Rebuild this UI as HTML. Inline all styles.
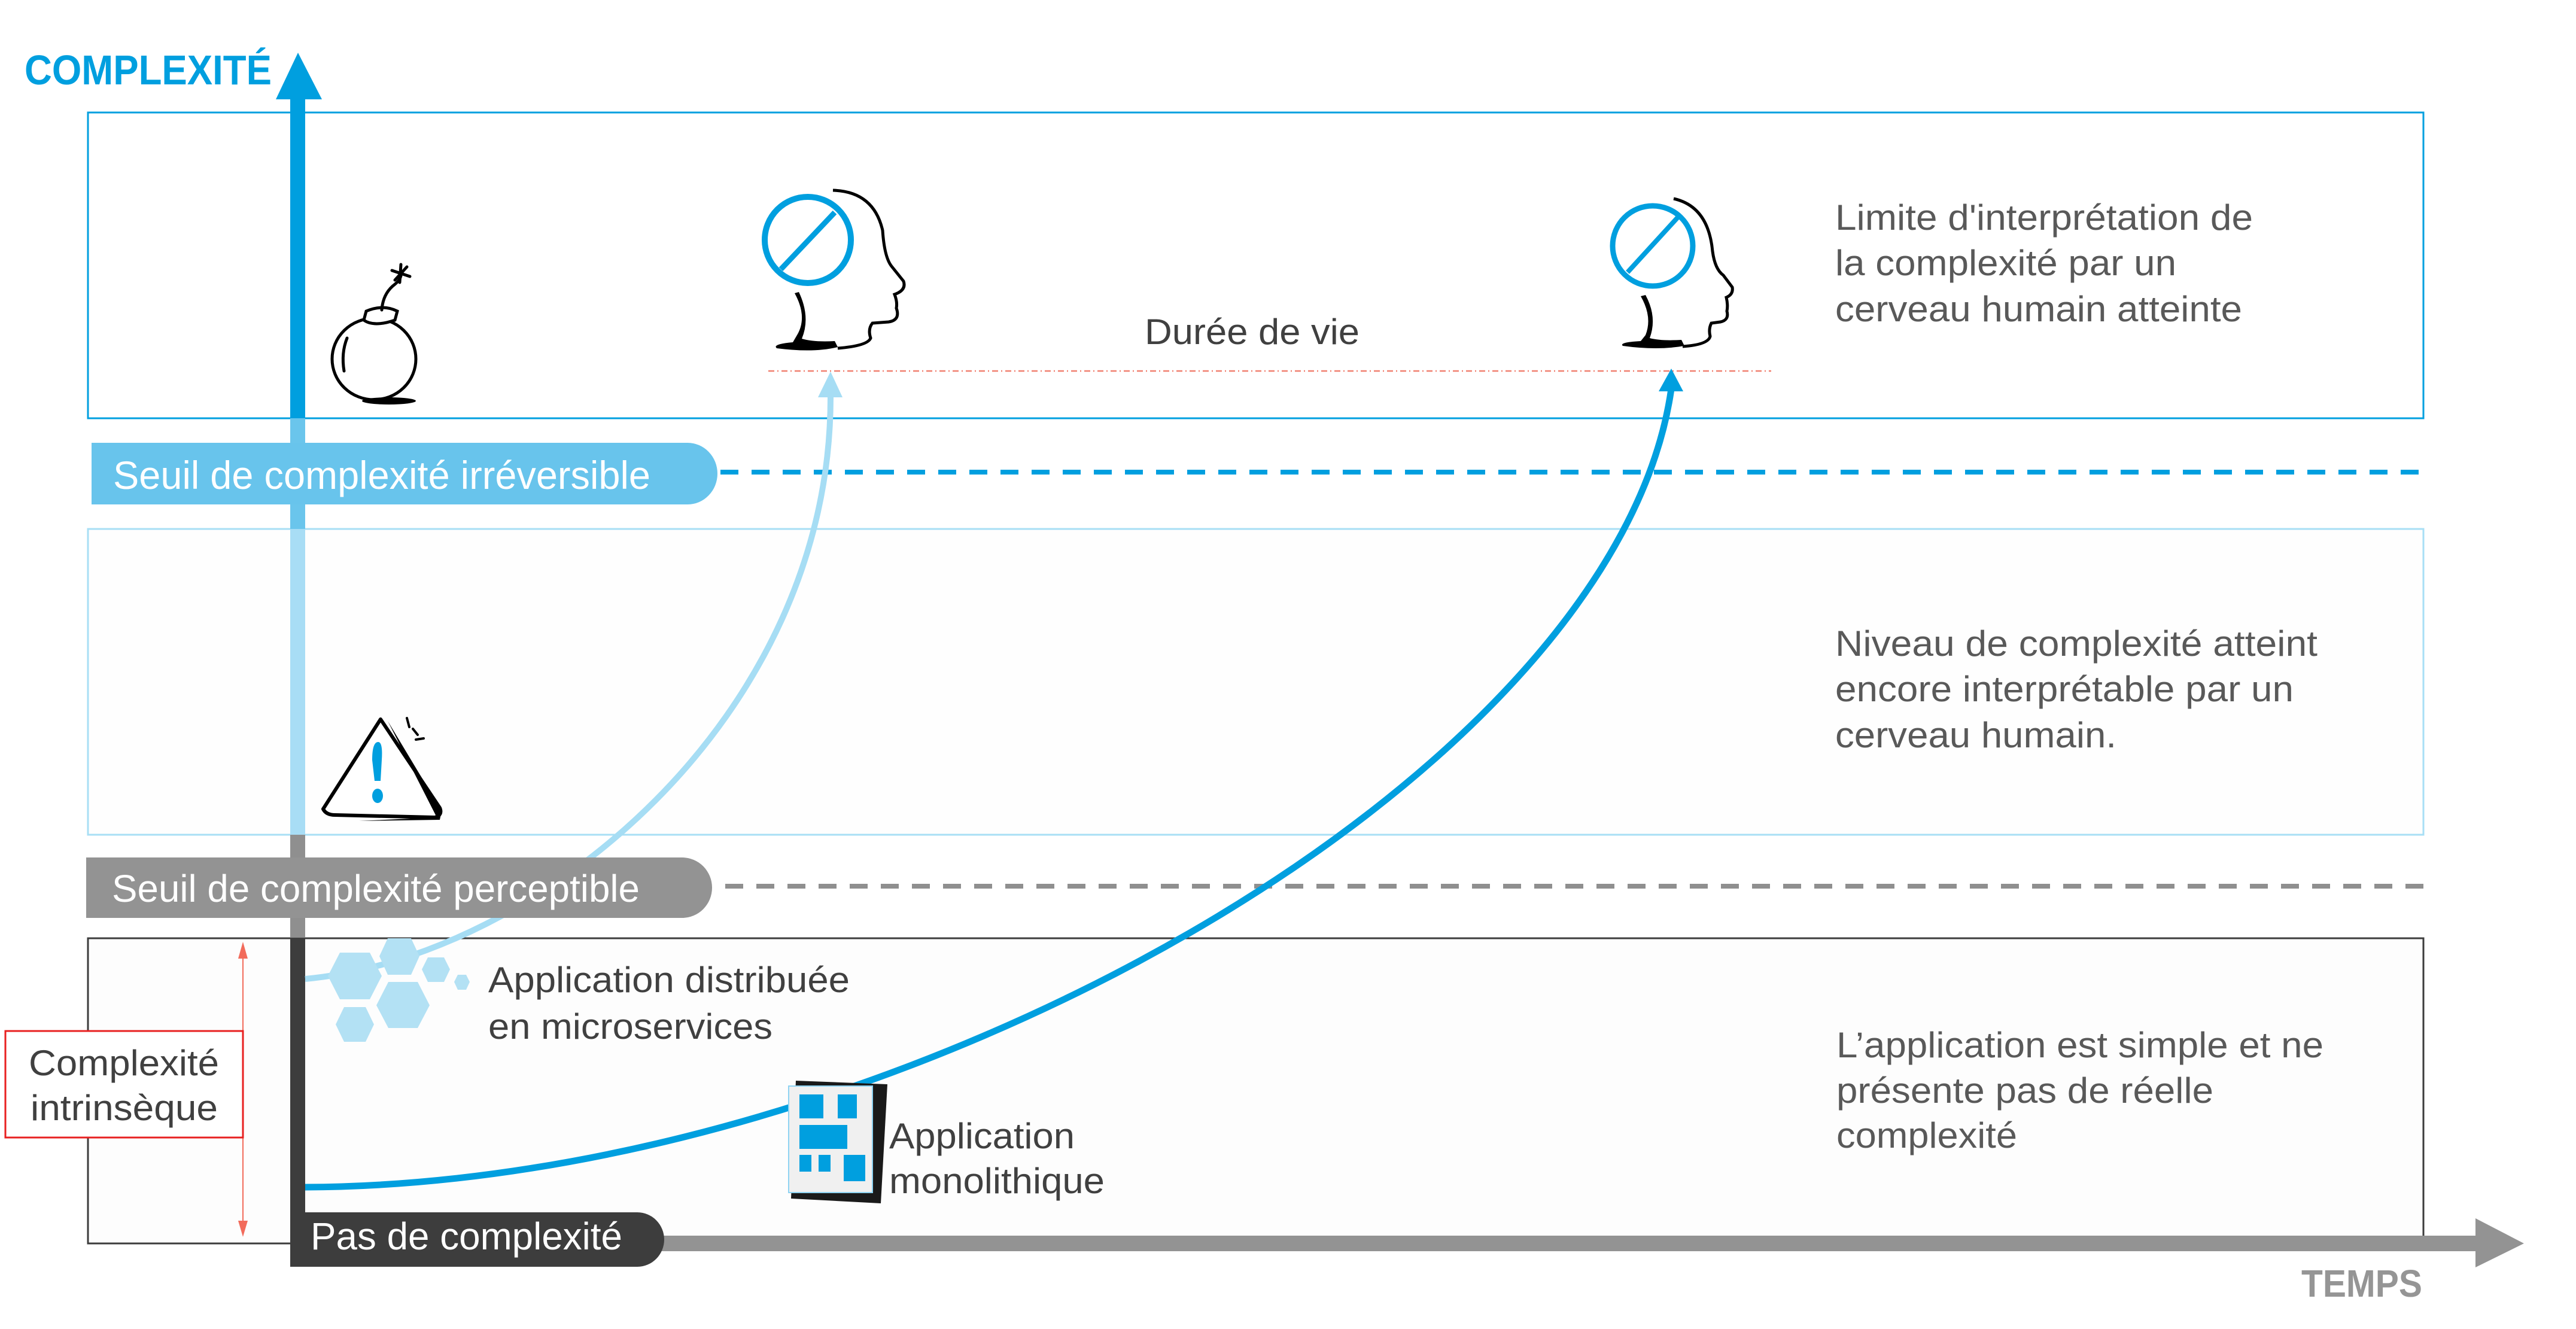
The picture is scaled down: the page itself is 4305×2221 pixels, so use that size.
<!DOCTYPE html>
<html><head><meta charset="utf-8"><style>
html,body{margin:0;padding:0;background:#fff;}
svg{display:block;}
text{font-family:"Liberation Sans",Arial,sans-serif;}
</style></head><body>
<svg width="4305" height="2221" viewBox="0 0 4305 2221" xmlns="http://www.w3.org/2000/svg">
<rect width="4305" height="2221" fill="#fff"/>
<!-- boxes -->
<rect x="147" y="188" width="3903" height="511" fill="#fff" stroke="#009fdf" stroke-width="3"/>
<rect x="147" y="884" width="3903" height="511" fill="#fefefe" stroke="#a8dff5" stroke-width="3"/>
<rect x="147" y="1568" width="3903" height="510" fill="#fdfdfd" stroke="#3c3c3c" stroke-width="3"/>

<!-- dashed lines -->
<line x1="1204" y1="789" x2="4059" y2="789" stroke="#009fdf" stroke-width="8" stroke-dasharray="30 22"/>
<line x1="1212" y1="1481" x2="4059" y2="1481" stroke="#8f8f8f" stroke-width="8" stroke-dasharray="30 22"/>
<line x1="1284" y1="620" x2="2960" y2="620" stroke="#f08070" stroke-width="2.5" stroke-dasharray="10 5 2 5"/>

<!-- vertical axis shaft -->
<rect x="485" y="160" width="25" height="540" fill="#009fdf"/>
<rect x="485" y="699" width="25" height="186" fill="#6ac5ec"/>
<rect x="485" y="884" width="25" height="511" fill="#a8ddf5"/>
<rect x="485" y="1395" width="25" height="173" fill="#8f8f8f"/>
<rect x="485" y="1567" width="25" height="505" fill="#3d3d3d"/>
<polygon points="461,166 498,88 538,166" fill="#009fdf"/>
<text x="41" y="141" font-size="70" font-weight="bold" fill="#009fdf" textLength="413" lengthAdjust="spacingAndGlyphs">COMPLEXITÉ</text>

<!-- horizontal axis -->
<rect x="1100" y="2065" width="3040" height="26" fill="#939393"/>
<polygon points="4137,2036 4218,2078 4137,2118" fill="#939393"/>
<text x="3846" y="2167" font-size="64" font-weight="bold" fill="#959595" textLength="202" lengthAdjust="spacingAndGlyphs">TEMPS</text>

<!-- curves -->
<path d="M510,1636 C900,1600 1390,1200 1388,660" fill="none" stroke="#a6ddf4" stroke-width="10"/>
<polygon points="1367,664 1388,621 1408,664" fill="#a6ddf4"/>
<path d="M510,1984 C1500,1980 2700,1300 2793,650" fill="none" stroke="#009fdf" stroke-width="11"/>
<polygon points="2772,654 2793,616 2813,654" fill="#009fdf"/>

<!-- labels -->
<path d="M153,740 H1149 A50,51.5 0 0 1 1199,791.5 A50,51.5 0 0 1 1149,843 H153 Z" fill="#68c4ec"/>
<text x="189" y="817" font-size="66" fill="#fff" textLength="898" lengthAdjust="spacingAndGlyphs">Seuil de complexité  irréversible</text>
<path d="M144,1433 H1140 A50,50.5 0 0 1 1190,1483.5 A50,50.5 0 0 1 1140,1534 H144 Z" fill="#939393"/>
<text x="187" y="1507" font-size="64" fill="#fff" textLength="882" lengthAdjust="spacingAndGlyphs">Seuil de complexité perceptible</text>
<path d="M485,2026 H1065 A45,45.5 0 0 1 1110,2071.5 A45,45.5 0 0 1 1065,2117 H485 Z" fill="#3d3d3d"/>
<text x="519" y="2088" font-size="64" fill="#fff" textLength="521" lengthAdjust="spacingAndGlyphs">Pas de complexité</text>

<!-- hexagons -->
<g fill="#b3e1f4">
<polygon points="548,1631 568,1592 618,1592 638,1631 618,1670 568,1670"/>
<polygon points="634,1598 648,1568 687,1568 701,1598 687,1629 648,1629"/>
<polygon points="705,1620 715,1600 742,1600 752,1620 742,1641 715,1641"/>
<polygon points="759,1641 765,1629 779,1629 785,1641 779,1654 765,1654"/>
<polygon points="629,1680 649,1641 698,1641 718,1680 698,1718 649,1718"/>
<polygon points="561,1712 575,1683 611,1683 625,1712 611,1741 575,1741"/>
</g>

<!-- monolith -->
<polygon points="1330,1806 1483,1812 1472,2011 1322,2003" fill="#1a1a1a"/>
<rect x="1318" y="1815" width="140" height="178" fill="#f0f0f0" stroke="#8fd3f2" stroke-width="2"/>
<g fill="#009fdf">
<rect x="1336" y="1829" width="40" height="40"/><rect x="1400" y="1829" width="32" height="40"/>
<rect x="1336" y="1880" width="80" height="40"/>
<rect x="1336" y="1930" width="20" height="28"/><rect x="1368" y="1930" width="20" height="28"/><rect x="1410" y="1930" width="36" height="44"/>
</g>

<!-- red intrinsic arrow -->
<line x1="406" y1="1600" x2="406" y2="2040" stroke="#f26b5b" stroke-width="2"/>
<polygon points="398,1602 406,1574 414,1602" fill="#f26b5b"/>
<polygon points="398,2040 406,2067 414,2040" fill="#f26b5b"/>
<rect x="9" y="1723" width="397" height="178" fill="#fff" stroke="#e82020" stroke-width="3"/>
<text x="48" y="1797" font-size="60" fill="#404040" textLength="318" lengthAdjust="spacingAndGlyphs">Complexité</text>
<text x="51" y="1872" font-size="60" fill="#404040" textLength="313" lengthAdjust="spacingAndGlyphs">intrinsèque</text>

<!-- text blocks -->
<g fill="#404040" font-size="60">
<text x="816" y="1658" textLength="604" lengthAdjust="spacingAndGlyphs">Application distribuée</text>
<text x="816" y="1736" textLength="475" lengthAdjust="spacingAndGlyphs">en microservices</text>
<text x="1486" y="1919" textLength="310" lengthAdjust="spacingAndGlyphs">Application</text>
<text x="1486" y="1994" textLength="360" lengthAdjust="spacingAndGlyphs">monolithique</text>
<text x="1913" y="575" textLength="359" lengthAdjust="spacingAndGlyphs">Durée de vie</text>
</g>
<g fill="#595959" font-size="60">
<text x="3067" y="384" textLength="698" lengthAdjust="spacingAndGlyphs">Limite d'interprétation de</text>
<text x="3067" y="460" textLength="570" lengthAdjust="spacingAndGlyphs">la complexité par un</text>
<text x="3067" y="537" textLength="680" lengthAdjust="spacingAndGlyphs">cerveau humain atteinte</text>
<text x="3067" y="1096" textLength="806" lengthAdjust="spacingAndGlyphs">Niveau de complexité atteint</text>
<text x="3067" y="1172" textLength="766" lengthAdjust="spacingAndGlyphs">encore interprétable par un</text>
<text x="3067" y="1249" textLength="470" lengthAdjust="spacingAndGlyphs">cerveau humain.</text>
<text x="3069" y="1767" textLength="814" lengthAdjust="spacingAndGlyphs">L’application est simple et ne</text>
<text x="3069" y="1843" textLength="630" lengthAdjust="spacingAndGlyphs">présente pas de réelle</text>
<text x="3069" y="1918" textLength="302" lengthAdjust="spacingAndGlyphs">complexité</text>
</g>

<!-- bomb -->
<g stroke="#000" stroke-width="5" fill="none" stroke-linecap="round">
<ellipse cx="625" cy="600" rx="70" ry="68" fill="#fff"/>
<path d="M580,565 Q570,590 575,620"/>
<path d="M612,520 L608,535 Q625,547 660,535 L664,520 Q640,508 612,520 Z" fill="#fff"/>
<path d="M638,518 Q640,490 660,475 Q672,465 670,455"/>
<path d="M670,442 L668,472 M655,452 L685,462 M660,468 L680,446"/>
</g>
<ellipse cx="650" cy="670" rx="45" ry="6" fill="#000"/>

<!-- head 1 -->
<g>
<circle cx="1350" cy="401" r="72" fill="none" stroke="#009fdf" stroke-width="10"/>
<line x1="1305" y1="450" x2="1395" y2="355" stroke="#009fdf" stroke-width="9"/>
<path d="M1392,318 Q1460,320 1475,385 Q1478,430 1490,445 L1510,470 Q1515,485 1495,492 Q1500,505 1498,515 Q1505,535 1485,538 L1458,540 Q1450,550 1455,565 Q1450,578 1400,582" fill="none" stroke="#000" stroke-width="5"/>
<path d="M1328,490 Q1350,530 1332,560 L1325,572 Q1290,575 1298,582 Q1360,590 1400,580 L1395,570 Q1360,572 1340,566 Q1355,530 1335,488 Z" fill="#000"/>
</g>
<!-- head 2 -->
<g>
<circle cx="2762" cy="411" r="67" fill="none" stroke="#009fdf" stroke-width="9"/>
<line x1="2720" y1="455" x2="2805" y2="362" stroke="#009fdf" stroke-width="8"/>
<path d="M2797,332 Q2855,345 2862,420 Q2866,450 2880,460 L2895,480 Q2897,492 2885,497 Q2888,510 2886,520 Q2890,535 2875,538 L2860,540 Q2855,550 2858,562 Q2855,576 2812,579" fill="none" stroke="#000" stroke-width="5"/>
<path d="M2742,495 Q2762,530 2750,560 L2742,570 Q2705,572 2712,578 Q2770,586 2815,578 L2810,568 Q2775,570 2757,565 Q2770,530 2750,493 Z" fill="#000"/>
</g>

<!-- warning -->
<path d="M636,1202 L540,1352 Q545,1362 560,1362 L727,1366 Q740,1362 735,1350 Z" fill="#fff" stroke="#000" stroke-width="6" stroke-linejoin="round"/>
<path d="M648,1205 L738,1355 L735,1370 L600,1372 L730,1366 Z" fill="#000"/>
<path d="M632,1240 Q640,1240 638,1270 L636,1305 L626,1305 L622,1270 Q622,1240 632,1240 Z" fill="#009fdf"/>
<ellipse cx="631" cy="1330" rx="9" ry="12" fill="#009fdf"/>
<path d="M680,1200 L684,1215 M690,1218 L698,1228 M695,1236 L708,1234" stroke="#000" stroke-width="4" stroke-linecap="round"/>
</svg>
</body></html>
